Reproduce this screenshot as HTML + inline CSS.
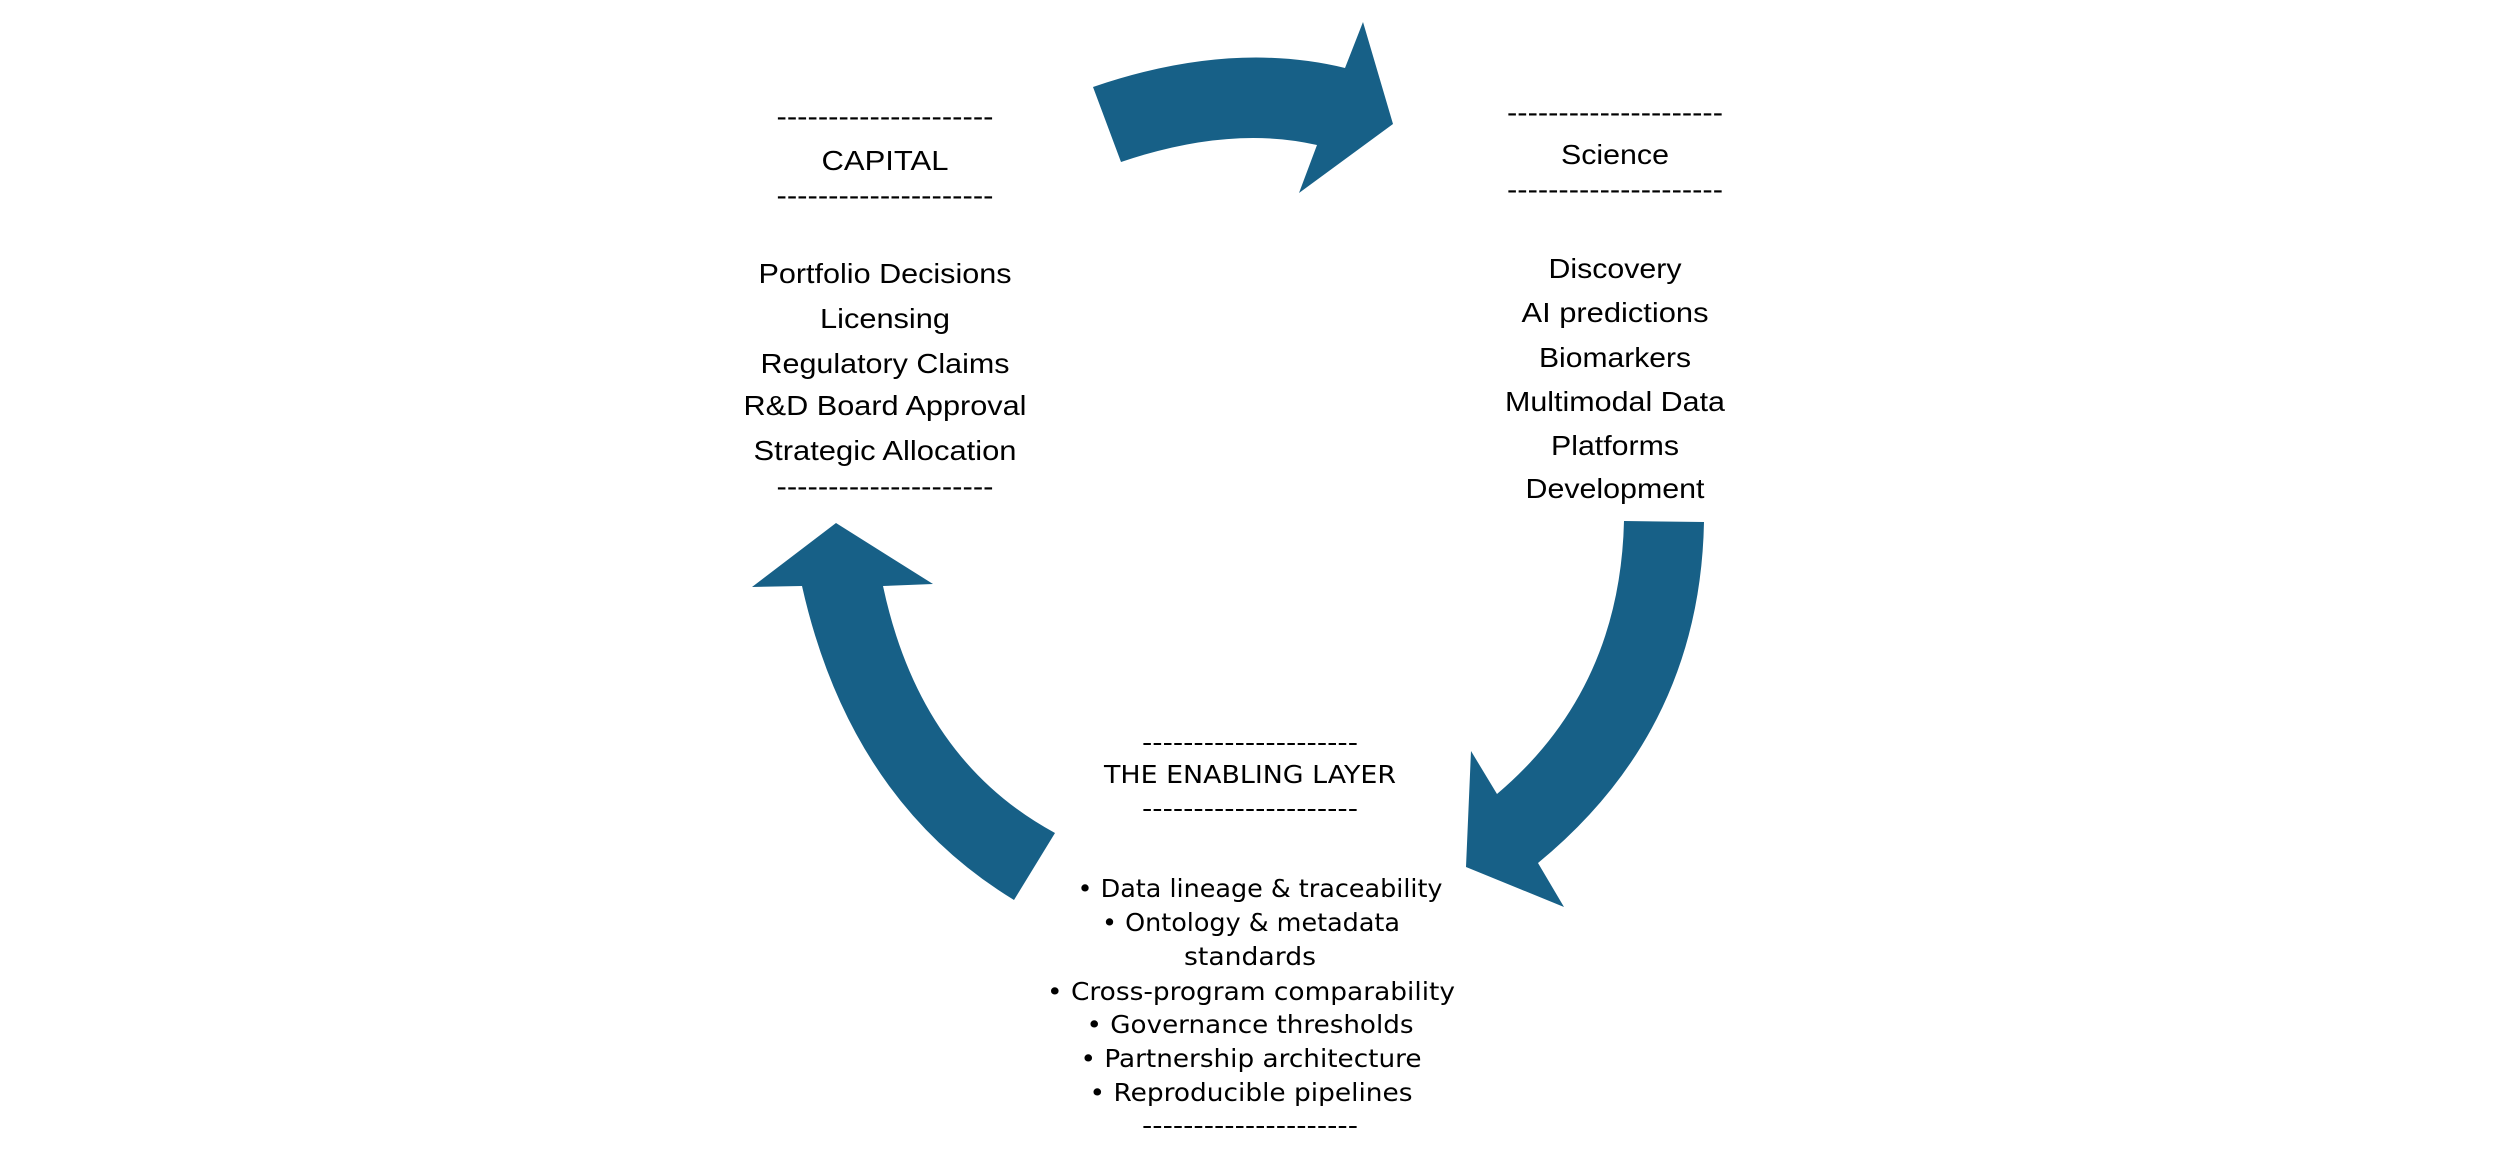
<!DOCTYPE html>
<html><head><meta charset="utf-8"><style>
html,body{margin:0;padding:0;background:#fff;}
svg{display:block;}
.a{font-family:"Liberation Sans",sans-serif;font-size:28px;fill:#000;}
.b{font-family:"DejaVu Sans","Liberation Sans",sans-serif;font-size:25px;fill:#000;}
</style></head><body>
<svg width="2500" height="1162" viewBox="0 0 2500 1162" xmlns="http://www.w3.org/2000/svg">
<g fill="#176087">
<path d="M1093,87 Q1230,40 1345,68 L1363,22 L1393,124 L1299,193 L1317,145 Q1230,125 1121,162 Z"/>
<path d="M1624,521 L1704,522 Q1700,730 1538,863 L1564,907 L1466,867 L1471,751 L1497,794 Q1620,690 1624,521 Z"/>
<path d="M836,523 L933,584 L883,586 Q920,760 1055,833 L1014,900 Q850,800 802,586 L752,587 Z"/>
</g>
<g class="a" text-anchor="middle">
<text x="885" y="126" textLength="217" lengthAdjust="spacingAndGlyphs">---------------------</text>
<text x="885" y="170" textLength="127" lengthAdjust="spacingAndGlyphs">CAPITAL</text>
<text x="885" y="205" textLength="217" lengthAdjust="spacingAndGlyphs">---------------------</text>
<text x="885" y="283" textLength="253" lengthAdjust="spacingAndGlyphs">Portfolio Decisions</text>
<text x="885" y="328" textLength="130" lengthAdjust="spacingAndGlyphs">Licensing</text>
<text x="885" y="373" textLength="249" lengthAdjust="spacingAndGlyphs">Regulatory Claims</text>
<text x="885" y="415" textLength="283" lengthAdjust="spacingAndGlyphs">R&amp;D Board Approval</text>
<text x="885" y="460" textLength="263" lengthAdjust="spacingAndGlyphs">Strategic Allocation</text>
<text x="885" y="496" textLength="217" lengthAdjust="spacingAndGlyphs">---------------------</text>

<text x="1615" y="122" textLength="216" lengthAdjust="spacingAndGlyphs">---------------------</text>
<text x="1615" y="164" textLength="108" lengthAdjust="spacingAndGlyphs">Science</text>
<text x="1615" y="199" textLength="216" lengthAdjust="spacingAndGlyphs">---------------------</text>
<text x="1615" y="278" textLength="133" lengthAdjust="spacingAndGlyphs">Discovery</text>
<text x="1615" y="322" textLength="187" lengthAdjust="spacingAndGlyphs">AI predictions</text>
<text x="1615" y="367" textLength="152" lengthAdjust="spacingAndGlyphs">Biomarkers</text>
<text x="1615" y="411" textLength="220" lengthAdjust="spacingAndGlyphs">Multimodal Data</text>
<text x="1615" y="455" textLength="128" lengthAdjust="spacingAndGlyphs">Platforms</text>
<text x="1615" y="498" textLength="179" lengthAdjust="spacingAndGlyphs">Development</text>
</g>
<g class="b" text-anchor="middle">
<text x="1250" y="751" textLength="216" lengthAdjust="spacingAndGlyphs">---------------------</text>
<text x="1250" y="783" textLength="292" lengthAdjust="spacingAndGlyphs">THE ENABLING LAYER</text>
<text x="1250" y="817" textLength="216" lengthAdjust="spacingAndGlyphs">---------------------</text>
<text x="1260" y="897" textLength="365" lengthAdjust="spacingAndGlyphs">• Data lineage &amp; traceability</text>
<text x="1251" y="931" textLength="298" lengthAdjust="spacingAndGlyphs">• Ontology &amp; metadata</text>
<text x="1250" y="965" textLength="132" lengthAdjust="spacingAndGlyphs">standards</text>
<text x="1251" y="1000" textLength="408" lengthAdjust="spacingAndGlyphs">• Cross-program comparability</text>
<text x="1250" y="1033" textLength="327" lengthAdjust="spacingAndGlyphs">• Governance thresholds</text>
<text x="1251" y="1067" textLength="341" lengthAdjust="spacingAndGlyphs">• Partnership architecture</text>
<text x="1251" y="1101" textLength="323" lengthAdjust="spacingAndGlyphs">• Reproducible pipelines</text>
<text x="1250" y="1134" textLength="216" lengthAdjust="spacingAndGlyphs">---------------------</text>
</g>
</svg>
</body></html>
